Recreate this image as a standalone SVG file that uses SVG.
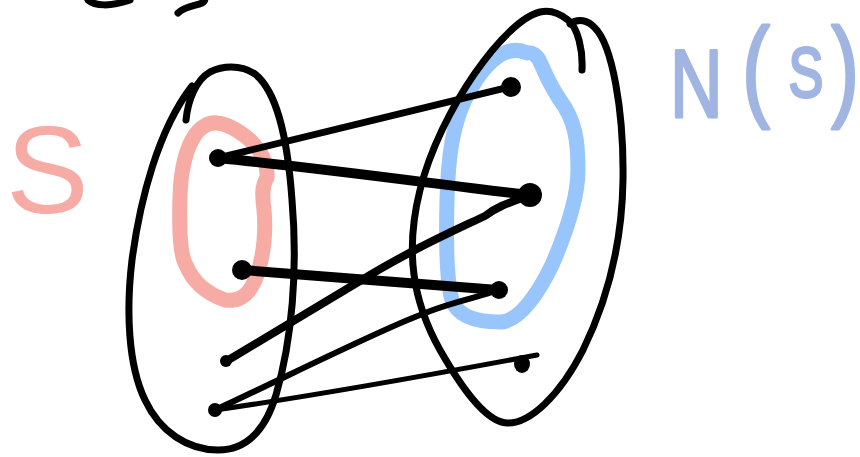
<svg xmlns="http://www.w3.org/2000/svg" width="860" height="457" viewBox="0 0 860 457">
<style>
.ink{fill:none;stroke:#000;stroke-linecap:round;stroke-linejoin:round}
.set{stroke-width:7}
.dot{fill:#000}
.hl-s{fill:none;stroke:#f6aba4;stroke-width:15;stroke-linecap:round;stroke-linejoin:round}
.hl-n{fill:none;stroke:#98c5fc;stroke-width:15;stroke-linecap:round;stroke-linejoin:round}
.lbl{font-family:"Liberation Sans",Arial,sans-serif}
</style>
<rect width="860" height="457" fill="#fff"/>
<g id="top-fragments">
<path class="ink" stroke-width="7" d="M88,0 C95,6 110,7 130,0"/>
<path class="ink" stroke-width="7" d="M178,13 C185,6 195,6 202,3 C204,2 205,0 205,-2"/>
</g>
<g id="set-S-highlight">
<path class="hl-s" d="M267,178 C268,165 262,152 250,140 C238,130 228,124 217,123 C208,122 200,128 195,135 C185,150 181,170 180,195 C179,230 180,255 186,265 C192,280 205,293 225,300 C240,302 250,295 257,275 C264,255 266,230 264,210 C262,195 262,185 267,178"/>
</g>
<g id="set-NS-highlight">
<path class="hl-n" d="M527,53 C510,45 490,55 470,90 C452,120 448,160 447,200 C446,240 446,280 452,300 C458,318 480,322 500,322 C520,322 540,290 552,265 C565,235 578,200 578,170 C578,140 575,120 560,100 C548,82 545,72 540,62 C537,55 532,52 527,53 Z"/>
</g>
<g id="left-set">
<path class="ink set" d="M186,120 C188,100 196,80 210,72 C222,66 240,64 255,74 C275,90 287,130 292,200 C298,270 292,340 276,395 C266,428 248,450 218,450 C188,450 160,432 145,400 C128,365 126,310 132,260 C140,200 158,130 192,86"/>
</g>
<g id="right-set">
<path class="ink set" d="M582,70 C583,50 578,28 568,20 C558,12 548,10 540,12 C505,20 440,110 420,190 C405,250 412,300 440,350 C460,385 485,422 507,423 C530,424 560,395 583,350 C605,305 622,250 623,180 C624,110 612,45 595,28 C588,20 578,18 570,24"/>
</g>
<g id="connectors">
<path class="ink" stroke-width="7" d="M218,158 L510,87"/>
<path class="ink" stroke-width="10" d="M218,158 C320,168 420,182 528,195"/>
<path class="ink" stroke-width="10" d="M242,270 L498,290"/>
<path class="ink" stroke-width="8" d="M225,362 L370,275 C420,245 460,228 485,216 C495,208 505,204 528,196"/>
<path class="ink" stroke-width="6" d="M215,410 C290,375 380,330 420,315 C450,302 480,297 498,290"/>
<path class="ink" stroke-width="5" d="M215,410 C320,395 430,375 537,355"/>
</g>
<g id="node-L1"><circle class="dot" cx="218" cy="158" r="9"/></g>
<g id="node-L2"><circle class="dot" cx="242" cy="270" r="10"/></g>
<g id="node-L3"><circle class="dot" cx="226" cy="361" r="6"/></g>
<g id="node-L4"><circle class="dot" cx="215" cy="410" r="7"/></g>
<g id="node-R1"><circle class="dot" cx="511" cy="87" r="10"/></g>
<g id="node-R2"><circle class="dot" cx="530" cy="195" r="12"/></g>
<g id="node-R3"><circle class="dot" cx="499" cy="290" r="9"/></g>
<g id="node-R4"><ellipse class="dot" cx="522" cy="364" rx="8" ry="9"/></g>
<g id="label-S">
<text class="lbl" x="6" y="213" font-size="124" fill="#f6aba4">S</text>
</g>
<g id="label-NS">
<text class="lbl" fill="#a0b5e1" stroke="#a0b5e1" stroke-width="2.5" stroke-linejoin="round" transform="scale(0.9,1.2)"><tspan x="744.4" y="97.5" font-size="81">N</tspan><tspan x="824.4" y="88.3" font-size="93">(</tspan><tspan x="876" y="80.8" font-size="58">S</tspan><tspan x="923.5" y="88.3" font-size="93">)</tspan></text>
</g>
</svg>
